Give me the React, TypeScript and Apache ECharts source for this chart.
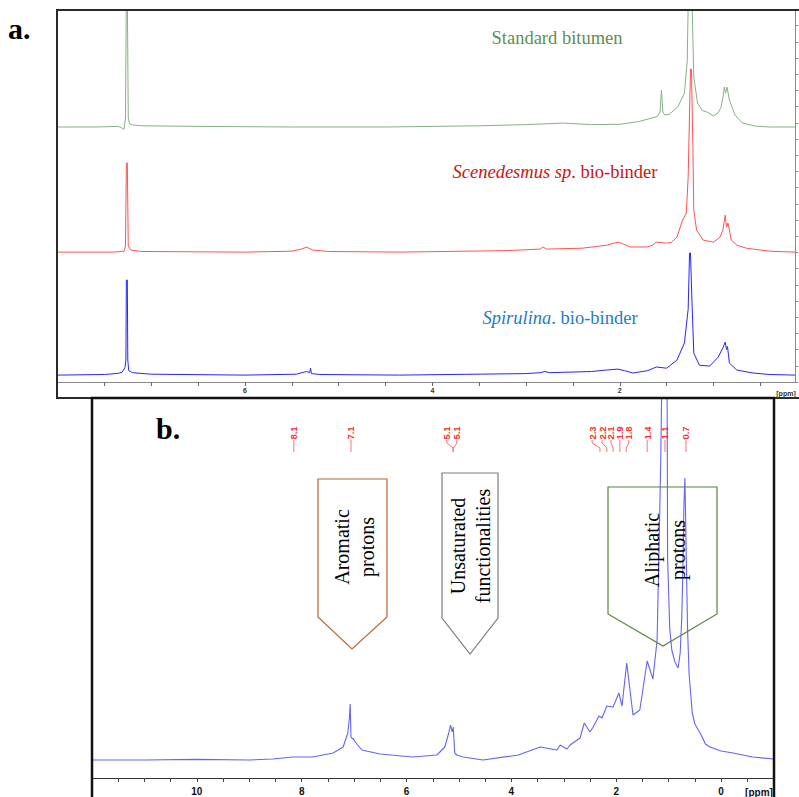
import React, { useEffect, useRef } from "react";
import * as echarts from "echarts";

// ---------- Panel a: stacked 1H NMR traces (ppm, intensity above own baseline, a.u.) ----------
const stdBitumen: [number, number][] = [
  [8.0, 0], [7.6, 0], [7.35, 0.2], [7.29, -0.7], [7.275, 3], [7.265, 45], [7.255, 45], [7.245, 3],
  [7.23, 1], [7.2, 0.7], [7.1, 0.4], [6.5, 0.2], [5.5, 0], [4.5, 0], [3.5, 0.4], [3.0, 0.8],
  [2.6, 1.3], [2.3, 0.8], [2.0, 0.9], [1.8, 1.8], [1.68, 2.8], [1.6, 3.5], [1.57, 5], [1.555, 12.3],
  [1.54, 5], [1.52, 4], [1.47, 4.3], [1.38, 6.7], [1.31, 11.3], [1.28, 22], [1.265, 50], [1.235, 50],
  [1.21, 16.7], [1.17, 8], [1.12, 5.5], [1.07, 5], [1.0, 3.7], [0.95, 4.7], [0.92, 6.5], [0.9, 9.7],
  [0.885, 13.3], [0.87, 11.3], [0.855, 13.3], [0.83, 9], [0.77, 4], [0.69, 1.3], [0.55, 0.3],
  [0.4, 0], [0.13, 0],
];
const scenedesmus: [number, number][] = [
  [8.0, 0], [7.4, 0], [7.29, 0.3], [7.275, 2], [7.265, 29.7], [7.255, 29.7], [7.245, 2], [7.22, 0.7],
  [7.1, 0.2], [6.0, 0], [5.5, 0.3], [5.4, 1], [5.34, 1.7], [5.28, 0.7], [5.1, 0.2], [4.35, 0],
  [3.2, 0.5], [2.85, 1], [2.82, 1.7], [2.78, 1], [2.4, 1.3], [2.14, 2.3], [2.05, 3.1], [2.02, 3.3],
  [1.97, 2.8], [1.89, 1.7], [1.71, 1.7], [1.65, 2.3], [1.61, 3.3], [1.5, 3], [1.45, 3.2], [1.39, 5],
  [1.33, 10.7], [1.29, 13], [1.27, 25], [1.245, 61], [1.235, 61], [1.22, 36], [1.21, 14], [1.18, 7.3],
  [1.11, 4], [1.0, 3.3], [0.93, 5], [0.9, 7.3], [0.875, 12.3], [0.86, 8.3], [0.845, 9.7], [0.81, 4],
  [0.75, 2.3], [0.65, 1.3], [0.4, 0.3], [0.13, 0],
];
const spirulinaA: [number, number][] = [
  [8.0, 0], [7.5, 0.2], [7.35, 0.6], [7.31, 1], [7.28, 2.5], [7.27, 5], [7.265, 31.7], [7.255, 31.7],
  [7.25, 5], [7.24, 1.5], [7.2, 0.8], [7.0, 0.3], [6.0, 0], [5.45, 0.3], [5.38, 0.9], [5.34, 1.2],
  [5.31, 0.8], [5.3, 2.3], [5.29, 0.5], [5.2, 0.2], [4.35, 0], [3.0, 0.5], [2.85, 0.8], [2.8, 1.2],
  [2.75, 0.8], [2.3, 1.2], [2.14, 1.7], [2.02, 2], [1.95, 1.5], [1.86, 0.7], [1.7, 1.5], [1.61, 2.7],
  [1.5, 2.3], [1.39, 5], [1.31, 10.7], [1.27, 22], [1.255, 40.7], [1.245, 40.7], [1.23, 25], [1.21, 7.3],
  [1.15, 3.3], [1.04, 3], [0.95, 6], [0.9, 9], [0.875, 11], [0.86, 8.5], [0.85, 9.5], [0.83, 4],
  [0.75, 1.7], [0.58, 0.7], [0.4, 0.2], [0.13, 0],
];
// vertical display offsets of the stacked traces (a.u.)
const traceOffsets = [85, 43.3, 2.3];
const traceNames = ["Standard bitumen", "Scenedesmus sp. bio-binder", "Spirulina. bio-binder"];
// italic part / roman part of each trace label
const labelItalic = ["", "Scenedesmus sp", "Spirulina"];
const labelRoman = ["Standard bitumen", ". bio-binder", ". bio-binder"];

// ---------- Panel b: Spirulina bio-binder spectrum ----------
const spirulinaB: [number, number][] = [
  [12.0, 9], [11, 9], [10, 9.3], [9, 9], [8.55, 9.5], [8.17, 10.5], [7.79, 10.5], [7.4, 12.5],
  [7.21, 15.5], [7.12, 22.5], [7.09, 30], [7.075, 37], [7.06, 20.5], [7.03, 19.5], [7.02, 19.8],
  [6.98, 18], [6.85, 14], [6.51, 12], [5.88, 10.5], [5.42, 11.5], [5.27, 15.5], [5.2, 22],
  [5.16, 26.5], [5.13, 23], [5.11, 25.5], [5.08, 12.5], [5.04, 11.5], [4.92, 10.5], [4.54, 9],
  [3.87, 11.5], [3.45, 15.5], [3.13, 14], [3.07, 16.5], [2.94, 14.5], [2.88, 16.5], [2.69, 20],
  [2.61, 27.5], [2.5, 23], [2.44, 25.5], [2.33, 31], [2.27, 30], [2.18, 36], [2.06, 35.5], [1.95, 42.5],
  [1.89, 36], [1.8, 57.5], [1.68, 31.5], [1.55, 34], [1.41, 58.5], [1.3, 49.5], [1.22, 69],
  [1.18, 120], [1.15, 160], [1.13, 200], [1.1, 280], [1.06, 280], [1.03, 200], [1.02, 110],
  [0.98, 75], [0.94, 64], [0.88, 58], [0.82, 55], [0.78, 62.5], [0.75, 80], [0.73, 102.5],
  [0.71, 135.5], [0.69, 150], [0.67, 120], [0.64, 75], [0.61, 52], [0.55, 32.5], [0.5, 27],
  [0.4, 22.5], [0.36, 20.5], [0.3, 17], [0.21, 15.5], [0.0, 13.5], [-0.23, 12.5], [-0.6, 10.5],
  [-1.0, 9.5],
];
const peakNames = ["8.1", "7.1", "5.1", "5.1", "2.3", "2.2", "2.1", "1.9", "1.8", "1.4", "1.1", "0.7"];
const peakLabelPpm = [8.15, 7.06, 5.23, 5.04, 2.46, 2.27, 2.1, 1.93, 1.76, 1.41, 1.07, 0.67];
const peakPpm = [8.15, 7.06, 5.11, 5.11, 2.31, 2.18, 2.06, 1.93, 1.81, 1.41, 1.07, 0.67];

// ---------- axis ticks ----------
const ticksA = [0.5, 1, 1.5, 2, 2.5, 3, 3.5, 4, 4.5, 5, 5.5, 6, 6.5, 7, 7.5];
const labelsA = [2, 4, 6];
const ticksB = [-0.5, 0, 0.5, 1, 1.5, 2, 2.5, 3, 3.5, 4, 4.5, 5, 5.5, 6, 6.5, 7, 7.5, 8, 8.5, 9, 9.5, 10, 10.5, 11, 11.5];
const labelsB = [0, 2, 4, 6, 8, 10];

const SERIF = "Liberation Serif";
const SANS = "Liberation Sans";

const centered = { textAlign: "center", textVerticalAlign: "middle", align: "center", verticalAlign: "middle" };

function measure(text: string, font: string): number {
  const ctx = document.createElement("canvas").getContext("2d");
  if (!ctx) return text.length * 8;
  ctx.font = font;
  return ctx.measureText(text).width;
}

export default function App() {
  const ref = useRef<HTMLDivElement>(null);

  useEffect(() => {
    if (!ref.current) return;
    const chart = echarts.init(ref.current, undefined, { renderer: "svg" });
    const traceColors = ["#86b186", "#ff5252", "#2626ff"];
    const labelColors = ["#5e8f4f", "#cc1414", "#1c7cca"];
    const labelCenters = [[557, 38], [555, 172], [560, 318]];
    const traces = [stdBitumen, scenedesmus, spirulinaA];
    const FS = 18.5;

    // trace name labels: italic + roman parts placed side by side
    const nameGraphics: any[] = [];
    labelCenters.forEach(([cx, cy], i) => {
      const wi = labelItalic[i] ? measure(labelItalic[i], `italic ${FS}px "${SERIF}"`) : 0;
      const wr = measure(labelRoman[i], `${FS}px "${SERIF}"`);
      const x0 = cx - (wi + wr) / 2;
      if (labelItalic[i]) {
        nameGraphics.push({
          type: "text", z: 60, x: x0, y: cy,
          style: { text: labelItalic[i], fontSize: FS, fontStyle: "italic", fontFamily: SERIF, fill: labelColors[i], textAlign: "left", align: "left", textVerticalAlign: "middle", verticalAlign: "middle" },
        });
      }
      nameGraphics.push({
        type: "text", z: 60, x: x0 + wi, y: cy,
        style: { text: labelRoman[i], fontSize: FS, fontFamily: SERIF, fill: labelColors[i], textAlign: "left", align: "left", textVerticalAlign: "middle", verticalAlign: "middle" },
      });
    });

    const option: any = {
      animation: false,
      backgroundColor: "#ffffff",
      grid: [
        { left: 57.5, top: 10, width: 737.5, height: 372, containLabel: false },
        { left: 92, top: 398, width: 681.5, height: 380, containLabel: false },
      ],
      xAxis: [
        {
          type: "value", gridIndex: 0, min: 0.13, max: 8, inverse: true,
          axisLine: { show: true, onZero: false, lineStyle: { color: "#8a8a8a", width: 1 } },
          axisTick: { show: true, customValues: ticksA, length: 4, lineStyle: { color: "#666" } },
          axisLabel: { customValues: labelsA, fontSize: 7, fontWeight: "bold", color: "#333", margin: 5, fontFamily: SANS },
          splitLine: { show: false },
        },
        {
          type: "value", gridIndex: 1, min: -1, max: 12, inverse: true,
          axisLine: { show: true, onZero: false, lineStyle: { color: "#333", width: 1 } },
          axisTick: { show: true, customValues: ticksB, length: 4, lineStyle: { color: "#444" } },
          axisLabel: { customValues: labelsB, fontSize: 10, fontWeight: "bold", color: "#111", margin: 8, fontFamily: SANS },
          splitLine: { show: false },
        },
      ],
      yAxis: [
        {
          type: "value", gridIndex: 0, min: 0, max: 124, interval: 5.4, position: "right",
          axisLine: { show: true, lineStyle: { color: "#8a8a8a", width: 1 } },
          axisTick: { show: true, inside: false, length: 3, lineStyle: { color: "#8a8a8a" } },
          axisLabel: { show: false },
          splitLine: { show: false },
        },
        { type: "value", gridIndex: 1, min: 0, max: 190, show: false },
      ],
      series: [
        ...traces.map((t, i) => ({
          name: traceNames[i],
          type: "line",
          xAxisIndex: 0, yAxisIndex: 0,
          data: t.map(([x, y]) => [x, y + traceOffsets[i]]),
          symbol: "none", showSymbol: false, clip: true,
          lineStyle: { color: traceColors[i], width: 1 },
          z: 3,
        })),
        {
          name: "Spirulina bio-binder (b)",
          type: "line",
          xAxisIndex: 1, yAxisIndex: 1,
          data: spirulinaB,
          symbol: "none", showSymbol: false, clip: true,
          lineStyle: { color: "#6464f6", width: 1.1 },
          z: 3,
        },
        {
          type: "custom",
          xAxisIndex: 1, yAxisIndex: 1,
          clip: false,
          data: peakNames.map((_, i) => [peakLabelPpm[i], peakPpm[i], i]),
          renderItem: (params: any, api: any) => {
            const xl = api.coord([api.value(0), 0])[0];
            const xp = api.coord([api.value(1), 0])[0];
            const top = params.coordSys.y;
            const name = peakNames[api.value(2)];
            return {
              type: "group",
              children: [
                {
                  type: "text", x: xl, y: top + 35, rotation: Math.PI / 2,
                  style: {
                    text: name, fill: "#ff2b2b", fontSize: 9.5, fontWeight: "bold", fontFamily: SANS,
                    ...centered,
                  },
                },
                {
                  type: "polyline",
                  shape: { points: [[xl, top + 42], [xl, top + 45], [xp, top + 50], [xp, top + 54]] },
                  style: { stroke: "#ff7070", lineWidth: 1, fill: null },
                },
              ],
            };
          },
          z: 4,
        },
      ],
      graphic: [
        // frames
        { type: "rect", z: 50, shape: { x: 57, y: 10, width: 745, height: 388 }, style: { fill: "none", stroke: "#2a2a2a", lineWidth: 2 } },
        { type: "rect", z: 50, shape: { x: 92, y: 398, width: 682, height: 430 }, style: { fill: "none", stroke: "#111", lineWidth: 2.5 } },
        // panel letters
        { type: "text", z: 60, x: 8, y: 28, style: { text: "a.", fontSize: 30, fontWeight: "bold", fontFamily: SERIF, fill: "#000", textAlign: "left", textVerticalAlign: "middle", align: "left", verticalAlign: "middle" } },
        { type: "text", z: 60, x: 156, y: 428, style: { text: "b.", fontSize: 30, fontWeight: "bold", fontFamily: SERIF, fill: "#000", textAlign: "left", textVerticalAlign: "middle", align: "left", verticalAlign: "middle" } },
        // ppm unit labels
        { type: "text", z: 60, x: 786, y: 393, style: { text: "[ppm]", fontSize: 7, fontWeight: "bold", fontFamily: SANS, fill: "#333", ...centered } },
        { type: "text", z: 60, x: 759, y: 792, style: { text: "[ppm]", fontSize: 10, fontWeight: "bold", fontFamily: SANS, fill: "#111", ...centered } },
        // trace names
        ...nameGraphics,
        // annotation arrows (pentagons)
        { type: "polygon", z: 20, shape: { points: [[318, 479], [387, 479], [387, 617], [352, 649], [318, 617]] }, style: { fill: "none", stroke: "#b9672f", lineWidth: 1.2 } },
        { type: "polygon", z: 20, shape: { points: [[442, 473], [498, 473], [498, 618], [470, 654], [442, 618]] }, style: { fill: "none", stroke: "#7d7d7d", lineWidth: 1.2 } },
        { type: "polygon", z: 20, shape: { points: [[608, 487], [717, 487], [717, 614], [663, 646], [608, 614]] }, style: { fill: "none", stroke: "#5b8438", lineWidth: 1.2 } },
        { type: "text", z: 21, x: 354.5, y: 547, rotation: Math.PI / 2, style: { text: "Aromatic\nprotons", fontSize: 20, fontFamily: SERIF, lineHeight: 25, fill: "#000", ...centered } },
        { type: "text", z: 21, x: 470.5, y: 546, rotation: Math.PI / 2, style: { text: "Unsaturated\nfunctionalities", fontSize: 20, fontFamily: SERIF, lineHeight: 25, fill: "#000", ...centered } },
        { type: "text", z: 21, x: 665, y: 550, rotation: Math.PI / 2, style: { text: "Aliphatic\nprotons", fontSize: 20, fontFamily: SERIF, lineHeight: 26, fill: "#000", ...centered } },
      ],
    };

    chart.setOption(option);
    return () => chart.dispose();
  }, []);

  return (
    <div
      ref={ref}
      style={{ position: "fixed", left: 0, top: 0, width: 799, height: 797, background: "#fff" }}
    />
  );
}
